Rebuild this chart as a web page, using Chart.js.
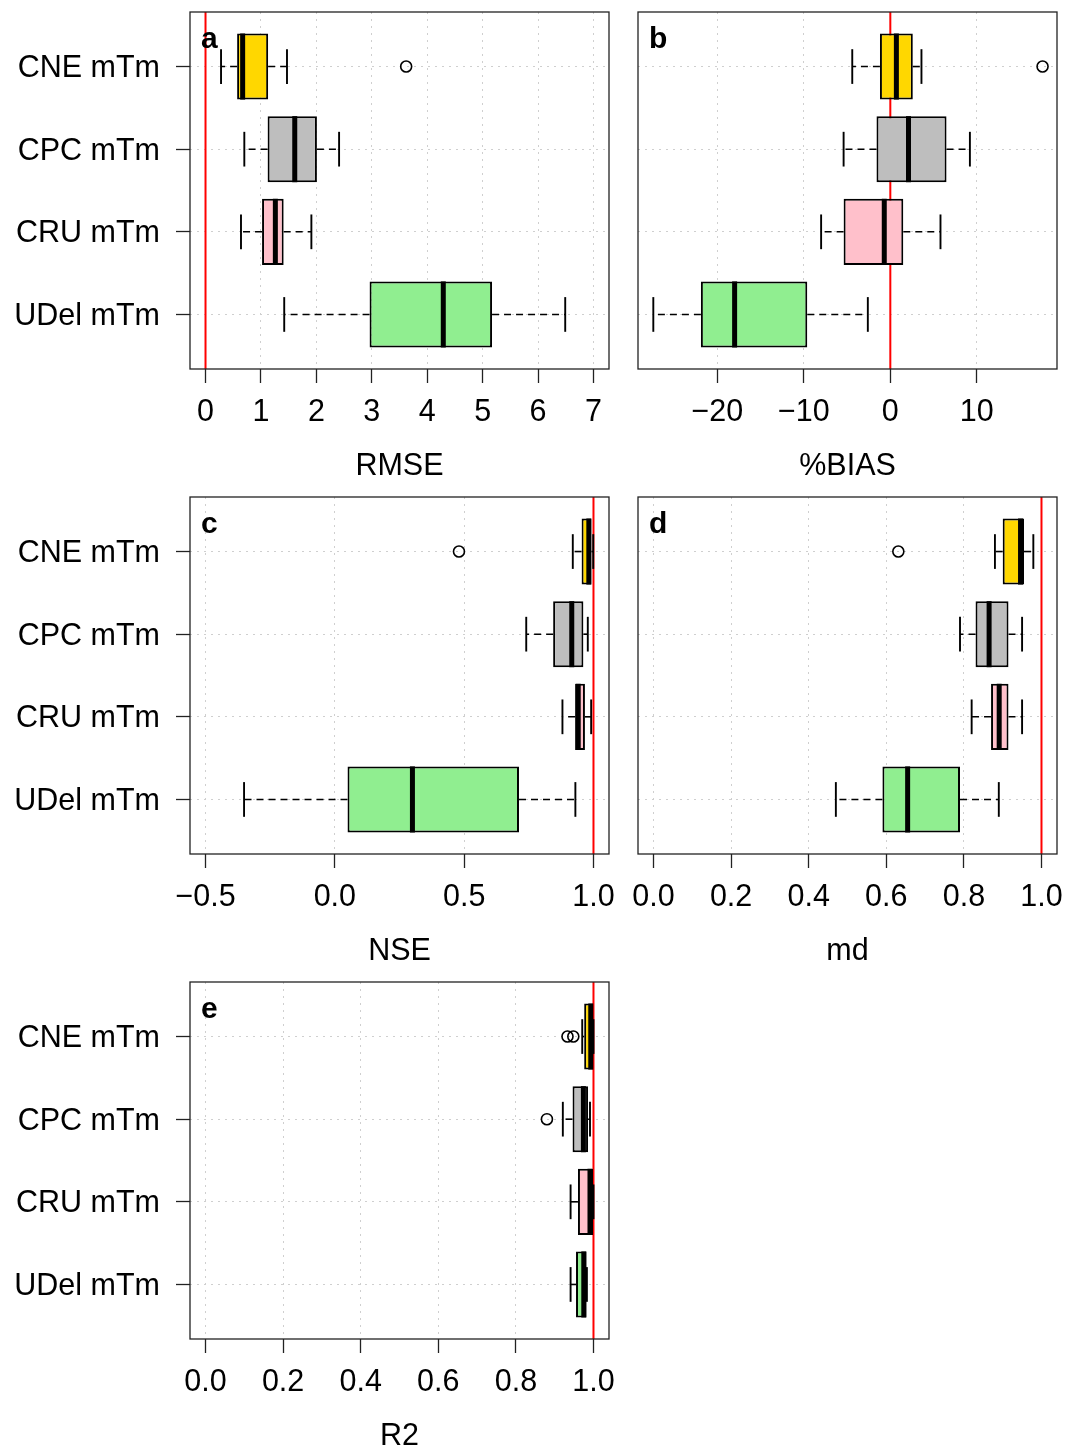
<!DOCTYPE html>
<html><head><meta charset="utf-8">
<script src="https://cdn.jsdelivr.net/npm/chart.js@4.4.1/dist/chart.umd.min.js"></script>
<style>
html,body{margin:0;padding:0;background:#fff;overflow:hidden;width:1077px;height:1449px;position:relative}
canvas{position:absolute}
</style></head><body>
<canvas id="pa" width="620" height="485" style="left:0;top:0"></canvas>
<canvas id="pb" width="457" height="485" style="left:620px;top:0"></canvas>
<canvas id="pc" width="620" height="485" style="left:0;top:485px"></canvas>
<canvas id="pd" width="457" height="485" style="left:620px;top:485px"></canvas>
<canvas id="pe" width="620" height="485" style="left:0;top:970px"></canvas>
<script>
// ---------- data ----------
const categories = ['CNE mTm', 'CPC mTm', 'CRU mTm', 'UDel mTm'];
const boxColors = ['#FFD700', '#BEBEBE', '#FFC0CB', '#90EE90'];

// RMSE
const rmseLow  = [0.28, 0.70, 0.64, 1.42];
const rmseQ1   = [0.57, 1.12, 1.02, 2.96];
const rmseMed  = [0.67, 1.61, 1.26, 4.29];
const rmseQ3   = [1.13, 2.01, 1.41, 5.17];
const rmseHigh = [1.47, 2.41, 1.91, 6.49];
const rmseOut  = [[3.62], [], [], []];
const rmseTicks = [0, 1, 2, 3, 4, 5, 6, 7];
const rmseTickLabels = ['0', '1', '2', '3', '4', '5', '6', '7'];

// %BIAS
const biasLow  = [-4.4, -5.4, -8.0, -27.4];
const biasQ1   = [-1.2, -1.6, -5.4, -21.9];
const biasMed  = [0.7, 2.1, -0.7, -18.0];
const biasQ3   = [2.6, 6.5, 1.5, -9.6];
const biasHigh = [3.6, 9.2, 5.8, -2.6];
const biasOut  = [[17.6], [], [], []];
const biasTicks = [-20, -10, 0, 10];
const biasTickLabels = ['\u221220', '\u221210', '0', '10'];

// NSE
const nseLow  = [0.920, 0.740, 0.880, -0.351];
const nseQ1   = [0.954, 0.844, 0.929, 0.049];
const nseMed  = [0.982, 0.916, 0.941, 0.300];
const nseQ3   = [0.992, 0.961, 0.967, 0.712];
const nseHigh = [0.999, 0.978, 0.991, 0.930];
const nseOut  = [[0.48], [], [], []];
const nseTicks = [-0.5, 0.0, 0.5, 1.0];
const nseTickLabels = ['\u22120.5', '0.0', '0.5', '1.0'];

// md
const mdLow  = [0.880, 0.790, 0.820, 0.470];
const mdQ1   = [0.900, 0.830, 0.870, 0.590];
const mdMed  = [0.946, 0.865, 0.891, 0.655];
const mdQ3   = [0.955, 0.915, 0.915, 0.790];
const mdHigh = [0.979, 0.950, 0.950, 0.890];
const mdOut  = [[0.631], [], [], []];
const mdTicks = [0.0, 0.2, 0.4, 0.6, 0.8, 1.0];
const mdTickLabels = ['0.0', '0.2', '0.4', '0.6', '0.8', '1.0'];

// R2
const r2Low  = [0.971, 0.921, 0.941, 0.941];
const r2Q1   = [0.976, 0.946, 0.960, 0.955];
const r2Med  = [0.993, 0.974, 0.991, 0.975];
const r2Q3   = [0.999, 0.986, 0.999, 0.982];
const r2High = [1.000, 0.991, 1.000, 0.983];
const r2Out  = [[0.933, 0.948], [0.880], [], []];
const r2Ticks = [0.0, 0.2, 0.4, 0.6, 0.8, 1.0];
const r2TickLabels = ['0.0', '0.2', '0.4', '0.6', '0.8', '1.0'];

// ---------- panel setup ----------
const FONT = "'Liberation Sans', Arial, Helvetica, sans-serif";
const FSIZE = 30.5;
const panels = [
  {id:'pa', letter:'a', title:'RMSE', low:rmseLow, q1:rmseQ1, med:rmseMed, q3:rmseQ3, high:rmseHigh, out:rmseOut,
   ticks:rmseTicks, labels:rmseTickLabels, min:-0.28, max:7.28, ref:0, showY:true},
  {id:'pb', letter:'b', title:'%BIAS', low:biasLow, q1:biasQ1, med:biasMed, q3:biasQ3, high:biasHigh, out:biasOut,
   ticks:biasTicks, labels:biasTickLabels, min:-29.17, max:19.27, ref:0, showY:false},
  {id:'pc', letter:'c', title:'NSE', low:nseLow, q1:nseQ1, med:nseMed, q3:nseQ3, high:nseHigh, out:nseOut,
   ticks:nseTicks, labels:nseTickLabels, min:-0.56, max:1.06, ref:1, showY:true},
  {id:'pd', letter:'d', title:'md', low:mdLow, q1:mdQ1, med:mdMed, q3:mdQ3, high:mdHigh, out:mdOut,
   ticks:mdTicks, labels:mdTickLabels, min:-0.04, max:1.04, ref:1, showY:false},
  {id:'pe', letter:'e', title:'R2', low:r2Low, q1:r2Q1, med:r2Med, q3:r2Q3, high:r2High, out:r2Out,
   ticks:r2Ticks, labels:r2TickLabels, min:-0.04, max:1.04, ref:1, showY:true}
];

const boxExtras = {
  id: 'boxExtras',
  beforeDatasetsDraw(chart, args, o) {
    const {ctx, chartArea: a, scales: {x, y}} = chart;
    ctx.save();
    ctx.beginPath(); ctx.rect(a.left, a.top, a.width, a.height); ctx.clip();
    // reference line
    const rx = x.getPixelForValue(o.ref);
    ctx.strokeStyle = '#ff0000'; ctx.lineWidth = 2; ctx.setLineDash([]);
    ctx.beginPath(); ctx.moveTo(rx, a.top); ctx.lineTo(rx, a.bottom); ctx.stroke();
    // whiskers
    ctx.strokeStyle = '#000';
    o.low.forEach((lo, i) => {
      const pos = i + 1;
      const py = y.getPixelForValue(pos);
      const capHalf = Math.abs(y.getPixelForValue(pos + 0.21) - py);
      const pairs = [[o.q1[i], lo], [o.q3[i], o.high[i]]];
      pairs.forEach(([from, to]) => {
        const x0 = x.getPixelForValue(from), x1 = x.getPixelForValue(to);
        ctx.lineWidth = 1.6; ctx.setLineDash([7, 5]);
        ctx.beginPath(); ctx.moveTo(x0, py); ctx.lineTo(x1, py); ctx.stroke();
        ctx.setLineDash([]); ctx.lineWidth = 1.9;
        ctx.beginPath(); ctx.moveTo(x1, py - capHalf); ctx.lineTo(x1, py + capHalf); ctx.stroke();
      });
    });
    ctx.restore();
  },
  afterDatasetsDraw(chart, args, o) {
    const {ctx, scales: {x, y}} = chart;
    ctx.save();
    ctx.strokeStyle = '#000'; ctx.lineWidth = 5; ctx.setLineDash([]);
    o.med.forEach((m, i) => {
      const pos = i + 1;
      const mx = x.getPixelForValue(m);
      const y0 = y.getPixelForValue(pos - 0.4), y1 = y.getPixelForValue(pos + 0.4);
      ctx.beginPath(); ctx.moveTo(mx, y0); ctx.lineTo(mx, y1); ctx.stroke();
    });
    ctx.restore();
  },
  afterDraw(chart, args, o) {
    const {ctx, chartArea: a} = chart;
    ctx.save();
    ctx.strokeStyle = '#222'; ctx.lineWidth = 1.3; ctx.setLineDash([]);
    ctx.strokeRect(a.left, a.top, a.width, a.height);
    ctx.fillStyle = '#000';
    ctx.font = 'bold 30px ' + FONT;
    ctx.textBaseline = 'alphabetic'; ctx.textAlign = 'left';
    ctx.fillText(o.letter, a.left + 11, a.top + 36);
    ctx.restore();
  }
};

panels.forEach(p => {
  const boxData = categories.map((c, i) => ({x: [p.q1[i], p.q3[i]], y: i + 1}));
  const outData = [];
  p.out.forEach((arr, i) => arr.forEach(v => outData.push({x: v, y: i + 1})));
  const leftCol = p.showY;
  new Chart(document.getElementById(p.id), {
    type: 'bar',
    data: {
      datasets: [
        {type: 'scatter', data: outData, pointRadius: 5.5, pointHoverRadius: 5.5, pointBorderWidth: 1.6,
         borderColor: '#000', backgroundColor: 'rgba(0,0,0,0)', pointBackgroundColor: 'rgba(0,0,0,0)'},
        {type: 'bar', data: boxData, backgroundColor: boxColors, borderColor: '#000', borderWidth: 2,
         borderSkipped: false, barPercentage: 0.8, categoryPercentage: 1.0}
      ]
    },
    plugins: [boxExtras],
    options: {
      responsive: false, animation: false, indexAxis: 'y',
      events: [],
      layout: {padding: {top: 12, left: 0, bottom: 0, right: leftCol ? 11 : 20}},
      plugins: {
        legend: {display: false}, tooltip: {enabled: false},
        boxExtras: {ref: p.ref, low: p.low, q1: p.q1, med: p.med, q3: p.q3, high: p.high, letter: p.letter}
      },
      scales: {
        x: {
          type: 'linear', position: 'bottom', min: p.min, max: p.max, offset: false,
          afterBuildTicks: s => { s.ticks = p.ticks.map(v => ({value: v})); },
          afterFit: s => { s.height = 116; s.paddingLeft = 0; s.paddingRight = 0; },
          ticks: {autoSkip: false, maxRotation: 0, minRotation: 0, padding: 11, color: '#000',
                  font: {family: FONT, size: FSIZE}, callback: (v, i) => p.labels[i]},
          grid: {offset: false, color: '#cfcfcf', lineWidth: 1, drawTicks: true, tickLength: 14, tickColor: '#222', tickWidth: 1.3},
          border: {display: false, dash: [2, 5]},
          title: {display: true, text: p.title, color: '#000', font: {family: FONT, size: FSIZE}, padding: {top: 0, bottom: 0}}
        },
        y: {
          type: 'linear', position: 'left', min: 0.34, max: 4.66, reverse: true, offset: false,
          afterBuildTicks: s => { s.ticks = categories.map((c, i) => ({value: i + 1})); },
          afterFit: s => { s.width = leftCol ? 190 : 18; s.paddingTop = 0; s.paddingBottom = 0; },
          ticks: {display: leftCol, autoSkip: false, padding: 16, labelOffset: 2, color: '#000',
                  font: {family: FONT, size: FSIZE}, callback: (v, i) => categories[i]},
          grid: {offset: false, color: '#cfcfcf', lineWidth: 1, drawTicks: leftCol, tickLength: 14, tickColor: '#222', tickWidth: 1.3},
          border: {display: false, dash: [2, 5]}
        }
      }
    }
  });
});
</script>
</body></html>
